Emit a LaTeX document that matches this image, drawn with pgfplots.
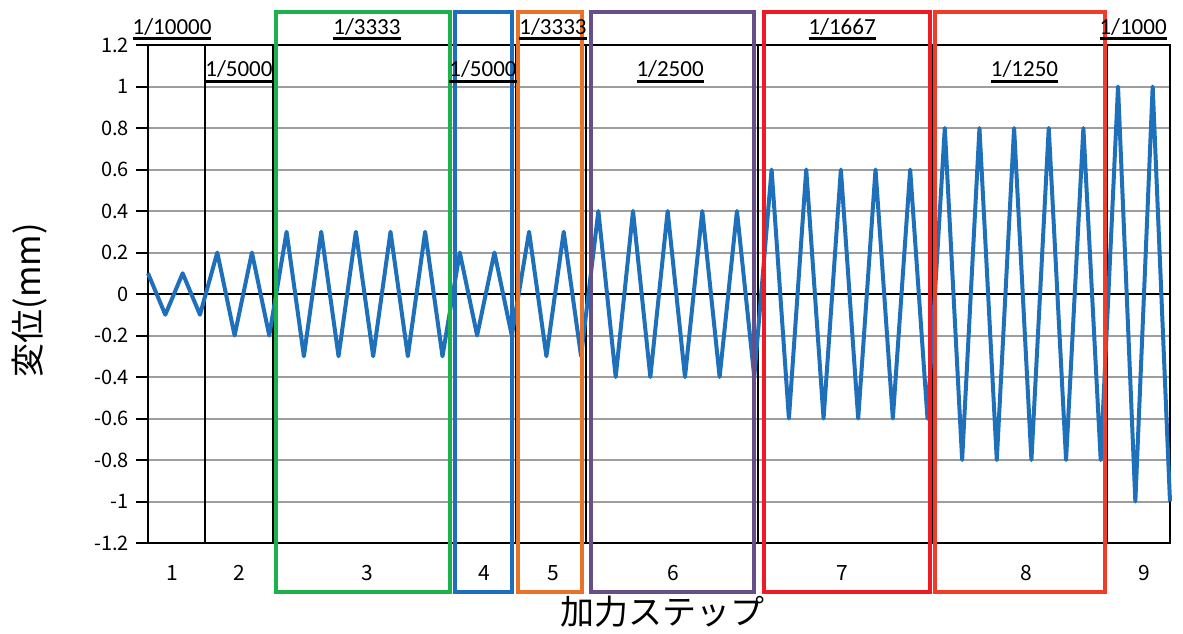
\documentclass[border=0pt]{standalone}
\usepackage{pgfplots}
\pgfplotsset{compat=1.18}
\usepackage{fontspec}
\setmainfont{Noto Sans CJK JP}
\newfontfamily\lab{Carlito}
\newcommand\ul[1]{\setbox0\hbox{#1}\rlap{\rule[-2.8pt]{\wd0}{1.3pt}}\box0}

\definecolor{lineblue}{RGB}{31,112,186}
\definecolor{bgreen}{RGB}{29,177,76}
\definecolor{bblue}{RGB}{30,110,190}
\definecolor{borange}{RGB}{232,114,40}
\definecolor{bpurple}{RGB}{102,78,134}
\definecolor{bred}{RGB}{237,28,36}
\definecolor{bred2}{RGB}{240,60,40}

\begin{document}
\begin{tikzpicture}
\useasboundingbox (0,0) rectangle (591.5pt,316.5pt);
\begin{axis}[
  at={(74pt,45pt)}, anchor=south west,
  scale only axis, width=511pt, height=249pt,
  xmin=0, xmax=59, ymin=-1.2, ymax=1.2,
  xtick=\empty,
  ytick={-1.2,-1,-0.8,-0.6,-0.4,-0.2,0,0.2,0.4,0.6,0.8,1,1.2},
  yticklabels={-1.2,-1,-0.8,-0.6,-0.4,-0.2,0,0.2,0.4,0.6,0.8,1,1.2},
  ymajorgrids, grid style={draw=black!38, line width=1pt},
  tick align=outside, ytick pos=left, major tick length=6pt,
  tick style={black, line width=1pt},
  axis line style={black, line width=1pt},
  yticklabel style={font=\fontsize{10}{12}\selectfont},
  clip=false,
]
% zero line and step separators
\draw[black, line width=1pt] (axis cs:0,0) -- (axis cs:59,0);
\pgfplotsinvokeforeach{3.29,7.22,17.5,21.25,25.3,35.2,45.3,55.4}{
  \draw[black, line width=0.8pt] (axis cs:#1,-1.2) -- (axis cs:#1,1.2);
}

\addplot[color=lineblue, line width=2pt, line join=round, mark=none] coordinates {
 (0,0.1) (1,-0.1) (2,0.1) (3,-0.1)
 (4,0.2) (5,-0.2) (6,0.2) (7,-0.2)
 (8,0.3) (9,-0.3) (10,0.3) (11,-0.3) (12,0.3) (13,-0.3) (14,0.3) (15,-0.3) (16,0.3) (17,-0.3)
 (18,0.2) (19,-0.2) (20,0.2) (21,-0.2)
 (22,0.3) (23,-0.3) (24,0.3) (25,-0.3)
 (26,0.4) (27,-0.4) (28,0.4) (29,-0.4) (30,0.4) (31,-0.4) (32,0.4) (33,-0.4) (34,0.4) (35,-0.4)
 (36,0.6) (37,-0.6) (38,0.6) (39,-0.6) (40,0.6) (41,-0.6) (42,0.6) (43,-0.6) (44,0.6) (45,-0.6)
 (46,0.8) (47,-0.8) (48,0.8) (49,-0.8) (50,0.8) (51,-0.8) (52,0.8) (53,-0.8) (54,0.8) (55,-0.8)
 (56,1) (57,-1) (58,1) (59,-1)
};

% coloured frames
\draw[bgreen, line width=2pt] (axis cs:7.39,-1.436) rectangle (axis cs:17.44,1.359);
\draw[bblue, line width=2pt] (axis cs:17.72,-1.436) rectangle (axis cs:21.02,1.359);
\draw[borange, line width=2pt] (axis cs:21.36,-1.436) rectangle (axis cs:25.06,1.359);
\draw[bpurple, line width=2pt] (axis cs:25.58,-1.436) rectangle (axis cs:34.99,1.359);
\draw[bred, line width=2pt] (axis cs:35.57,-1.436) rectangle (axis cs:45.15,1.359);
\draw[bred2, line width=2pt] (axis cs:45.44,-1.436) rectangle (axis cs:55.25,1.359);

% drift ratio labels
\node[font=\lab\fontsize{11.5}{13}\selectfont, anchor=base] at (axis cs:1.39,1.253) {\ul{1/10000}};
\node[font=\lab\fontsize{11.5}{13}\selectfont, anchor=base] at (axis cs:5.25,1.046) {\ul{1/5000}};
\node[font=\lab\fontsize{11.5}{13}\selectfont, anchor=base] at (axis cs:12.64,1.253) {\ul{1/3333}};
\node[font=\lab\fontsize{11.5}{13}\selectfont, anchor=base] at (axis cs:19.34,1.046) {\ul{1/5000}};
\node[font=\lab\fontsize{11.5}{13}\selectfont, anchor=base] at (axis cs:23.38,1.253) {\ul{1/3333}};
\node[font=\lab\fontsize{11.5}{13}\selectfont, anchor=base] at (axis cs:30.14,1.046) {\ul{1/2500}};
\node[font=\lab\fontsize{11.5}{13}\selectfont, anchor=base] at (axis cs:40.07,1.253) {\ul{1/1667}};
\node[font=\lab\fontsize{11.5}{13}\selectfont, anchor=base] at (axis cs:50.6,1.046) {\ul{1/1250}};
\node[font=\lab\fontsize{11.5}{13}\selectfont, anchor=base] at (axis cs:56.87,1.253) {\ul{1/1000}};

% step numbers
\node[font=\fontsize{10.5}{12}\selectfont] at (axis cs:1.39,-1.345) {1};
\node[font=\fontsize{10.5}{12}\selectfont] at (axis cs:5.25,-1.345) {2};
\node[font=\fontsize{10.5}{12}\selectfont] at (axis cs:12.64,-1.345) {3};
\node[font=\fontsize{10.5}{12}\selectfont] at (axis cs:19.4,-1.345) {4};
\node[font=\fontsize{10.5}{12}\selectfont] at (axis cs:23.38,-1.345) {5};
\node[font=\fontsize{10.5}{12}\selectfont] at (axis cs:30.3,-1.345) {6};
\node[font=\fontsize{10.5}{12}\selectfont] at (axis cs:40.07,-1.345) {7};
\node[font=\fontsize{10.5}{12}\selectfont] at (axis cs:50.7,-1.345) {8};
\node[font=\fontsize{10.5}{12}\selectfont] at (axis cs:57.5,-1.345) {9};

% axis titles
\node[font=\fontsize{17}{20}\selectfont] at (axis cs:29.73,-1.533) {加力ステップ};
\node[font=\fontsize{17}{20}\selectfont, rotate=90] at (axis cs:-6.81,-0.03) {変位(mm)};
\end{axis}
\end{tikzpicture}
\end{document}
